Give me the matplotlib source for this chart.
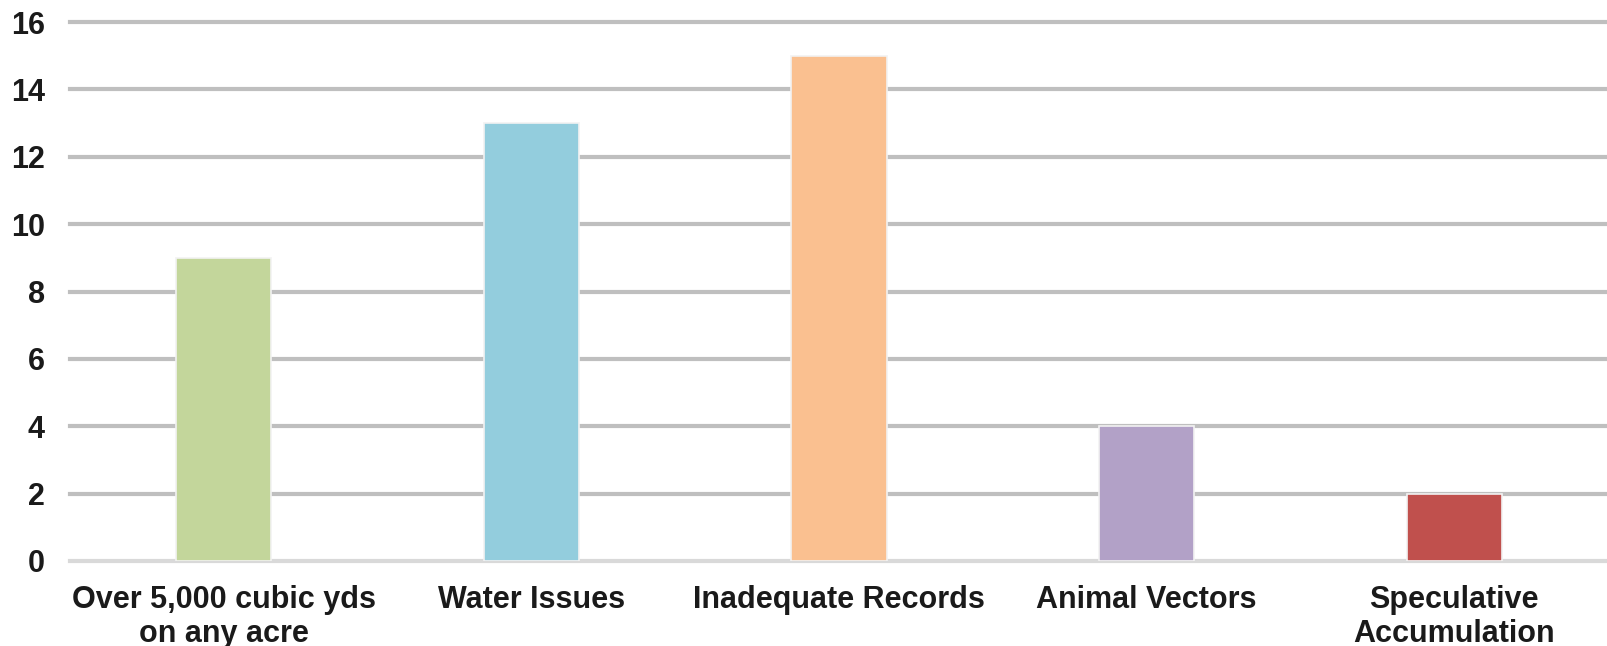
import matplotlib.pyplot as plt
import numpy as np

# Chart data
categories = ['Over 5,000 cubic yds\non any acre', 'Water Issues', 'Inadequate Records',
              'Animal Vectors', 'Speculative\nAccumulation']
counts = [9, 13, 15, 4, 2]
colors = ['#c3d69b', '#93cddd', '#fac090', '#b2a1c7', '#c0504d']
yticks = [0, 2, 4, 6, 8, 10, 12, 14, 16]

plt.rcParams['font.family'] = ['Liberation Sans', 'DejaVu Sans']

fig = plt.figure(figsize=(16.08, 6.46), dpi=100)
ax = fig.add_axes([70 / 1608, 1 - 561 / 646, 1 - 70 / 1608, (561 - 22) / 646])

x = np.arange(len(categories))
ax.bar(x, counts, width=0.31, color=colors, edgecolor='#f2f2f2', linewidth=1.2, zorder=3)

# Grid lines
for y in yticks[1:]:
    ax.axhline(y, color='#bfbfbf', linewidth=3, zorder=1, clip_on=False)
ax.axhline(0, color='#d9d9d9', linewidth=3, zorder=2, clip_on=False)

ax.set_xlim(-0.5, 4.5)
ax.set_ylim(0, 16)
ax.set_yticks(yticks)
ax.set_xticks(x)
ax.set_xticklabels(categories, fontsize=22, fontweight='bold', color='#1a1a1a', linespacing=1.2)
ax.tick_params(axis='y', labelsize=22, length=0, pad=18, labelcolor='#1a1a1a')
ax.tick_params(axis='x', length=0, pad=17)
for lbl in ax.get_yticklabels():
    lbl.set_fontweight('bold')

for s in ax.spines.values():
    s.set_visible(False)

fig.savefig('out.png', dpi=100)
